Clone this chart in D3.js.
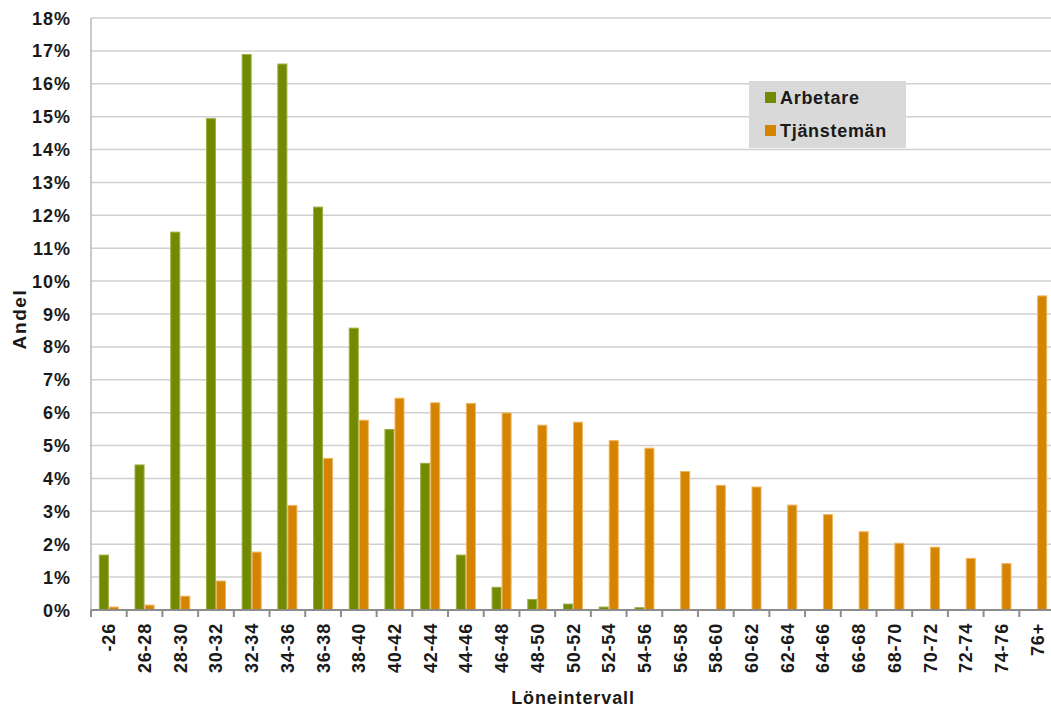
<!DOCTYPE html>
<html><head><meta charset="utf-8">
<script src="https://cdn.jsdelivr.net/npm/d3@7"></script>
<style>
html,body{margin:0;padding:0;background:#fff;overflow:hidden}
text{font-family:"Liberation Sans",Arial,sans-serif;font-weight:bold;fill:#1a1a1a}
</style></head>
<body><svg id="c" width="1051" height="709"></svg>
<script>
const categories = ["-26","26-28","28-30","30-32","32-34","34-36","36-38","38-40","40-42","42-44","44-46","46-48","48-50","50-52","52-54","54-56","56-58","58-60","60-62","62-64","64-66","66-68","68-70","70-72","72-74","74-76","76+"];
const arbetare = [1.67,4.41,11.49,14.94,16.89,16.60,12.25,8.57,5.49,4.46,1.67,0.69,0.32,0.18,0.09,0.07,0,0,0,0,0,0,0,0,0,0,0];
const tjansteman = [0.09,0.15,0.42,0.88,1.76,3.18,4.61,5.77,6.44,6.30,6.28,5.99,5.62,5.71,5.15,4.92,4.21,3.79,3.74,3.19,2.90,2.38,2.03,1.91,1.57,1.41,9.55];
const seriesNames = ["Arbetare","Tjänstemän"];
const yTicks = [0,1,2,3,4,5,6,7,8,9,10,11,12,13,14,15,16,17,18];
const colors = ["#718a00","#d48400"];
const strokes = ["#9aae45","#efb560"];

const svg = d3.select("#c");
const L = 91, R = 1055, T = 18, B = 610;
const x = d3.scaleBand().domain(categories).range([L, R]).paddingInner(0).paddingOuter(0);
const xs = d3.scaleBand().domain(seriesNames).range([0, x.bandwidth()]).paddingInner(0).paddingOuter(0.78);
const y = d3.scaleLinear().domain([0, 18]).range([B, T]);

// gridlines
svg.append("g").selectAll("line").data(yTicks.filter(d=>d>0)).join("line")
  .attr("x1", L).attr("x2", 1051).attr("y1", d=>y(d)).attr("y2", d=>y(d))
  .attr("stroke", "#d0d0d0").attr("stroke-width", 1.5);

// y axis line
svg.append("line").attr("x1", L).attr("x2", L).attr("y1", T).attr("y2", B)
  .attr("stroke", "#b8b8b8").attr("stroke-width", 1.5);

// bars
const data = [arbetare, tjansteman];
data.forEach((vals, si) => {
  svg.append("g").selectAll("rect").data(vals.map((v,i)=>({c:categories[i], v})).filter(d=>d.v>0)).join("rect")
    .attr("x", d => x(d.c) + xs(seriesNames[si]) + 0.5)
    .attr("width", xs.bandwidth() - 1)
    .attr("y", d => y(d.v))
    .attr("height", d => B - y(d.v))
    .attr("fill", colors[si])
    .attr("stroke", strokes[si]).attr("stroke-width", 1);
});

// x axis
const xAxis = svg.append("g").attr("transform", `translate(0,${B})`);
xAxis.append("line").attr("x1", L).attr("x2", 1051).attr("y1", 0).attr("y2", 0)
  .attr("stroke", "#8c8c8c").attr("stroke-width", 2);
xAxis.selectAll("line.tk").data(categories).join("line").attr("class","tk")
  .attr("x1", d=>x(d)).attr("x2", d=>x(d)).attr("y1", 0).attr("y2", 7)
  .attr("stroke", "#8c8c8c").attr("stroke-width", 2);
xAxis.selectAll("text").data(categories).join("text")
  .attr("transform", d => `translate(${x(d)+x.bandwidth()/2+6.5},13) rotate(-90)`)
  .attr("text-anchor", "end")
  .style("font-size", "18px").style("letter-spacing", "0.8px")
  .text(d => d);

// y tick labels
svg.append("g").selectAll("text").data(yTicks).join("text")
  .attr("x", 71).attr("y", d => y(d) + 6.5)
  .attr("text-anchor", "end")
  .style("font-size", "18px").style("letter-spacing", "1px")
  .text(d => d + "%");

// axis titles
svg.append("text").attr("transform", "translate(25.5,319) rotate(-90)")
  .attr("text-anchor", "middle").style("font-size", "19px").style("letter-spacing", "1.6px").text("Andel");
svg.append("text").attr("x", 573).attr("y", 704)
  .attr("text-anchor", "middle").style("font-size", "18px").style("letter-spacing", "0.9px").text("Löneintervall");

// legend
const lg = svg.append("g");
lg.append("rect").attr("x", 749).attr("y", 81).attr("width", 157).attr("height", 67).attr("fill", "#d9d9d9");
seriesNames.forEach((n, i) => {
  lg.append("rect").attr("x", 765).attr("y", 92 + i*33).attr("width", 11).attr("height", 11).attr("fill", colors[i]);
  lg.append("text").attr("x", 780).attr("y", 104 + i*33).style("font-size", "18px").style("letter-spacing", "0.7px").text(n);
});
</script></body></html>
